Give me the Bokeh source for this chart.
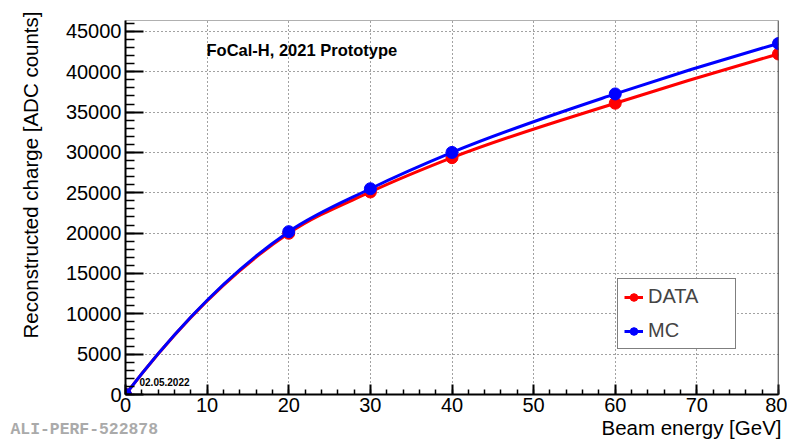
from bokeh.plotting import figure
from bokeh.models import (Range1d, FixedTicker, Label, Legend, LegendItem, Span,
                          ColumnDataSource, Title)
from bokeh.embed import file_html
from bokeh.resources import INLINE

# ---- data ----
energy = [0, 20, 30, 40, 60, 80]
charge_data = [0, 19980, 25100, 29350, 36100, 42200]
charge_mc = [0, 20180, 25500, 30000, 37250, 43500]
x_ticks = [0, 10, 20, 30, 40, 50, 60, 70, 80]
y_ticks = [0, 5000, 10000, 15000, 20000, 25000, 30000, 35000, 40000, 45000]
x_minor = list(range(0, 81, 2))
y_minor = list(range(0, 46001, 1000))

FONT = "Liberation Sans"


def smooth_segments(xs, ys):
    """Cubic Hermite (three-point tangents) segments as bezier control points."""
    n = len(xs)
    h = [xs[i + 1] - xs[i] for i in range(n - 1)]
    s = [(ys[i + 1] - ys[i]) / h[i] for i in range(n - 1)]
    m = [0.0] * n
    m[0] = s[0] + (s[0] - s[1]) * h[0] / (h[0] + h[1])
    m[-1] = s[-1] + (s[-1] - s[-2]) * h[-1] / (h[-2] + h[-1])
    for i in range(1, n - 1):
        m[i] = (s[i - 1] * h[i] + s[i] * h[i - 1]) / (h[i - 1] + h[i])
    d = dict(x0=[], y0=[], x1=[], y1=[], cx0=[], cy0=[], cx1=[], cy1=[])
    for i in range(n - 1):
        d["x0"].append(xs[i]); d["y0"].append(ys[i])
        d["x1"].append(xs[i + 1]); d["y1"].append(ys[i + 1])
        d["cx0"].append(xs[i] + h[i] / 3); d["cy0"].append(ys[i] + m[i] * h[i] / 3)
        d["cx1"].append(xs[i + 1] - h[i] / 3); d["cy1"].append(ys[i + 1] - m[i + 1] * h[i] / 3)
    return ColumnDataSource(d)


p = figure(width=787, height=439, output_backend="svg", toolbar_location=None,
           x_range=Range1d(0, 80), y_range=Range1d(0, 46350),
           min_border_left=125, min_border_right=9, min_border_top=20,
           min_border_bottom=45)
p.background_fill_color = "white"
p.border_fill_color = "white"
p.outline_line_color = "#b0b0b0"
p.outline_line_width = 1

for ax, ticks, minor in ((p.xaxis[0], x_ticks, x_minor), (p.yaxis[0], y_ticks, y_minor)):
    ax.ticker = FixedTicker(ticks=ticks, minor_ticks=minor)
    ax.major_tick_out = 0
    ax.minor_tick_out = 0
    ax.axis_line_width = 2
    ax.major_tick_line_width = 2
    ax.minor_tick_line_width = 1.5
    ax.major_label_text_font = FONT
    ax.major_label_text_font_size = "20px"
    ax.major_label_text_color = "black"
    ax.axis_line_color = "black"

p.xaxis.major_tick_in = 10
p.xaxis.minor_tick_in = 5
p.yaxis.major_tick_in = 18
p.yaxis.minor_tick_in = 9
p.xaxis.major_label_standoff = 3
p.yaxis.major_label_standoff = 4

for g in (p.xgrid[0], p.ygrid[0]):
    g.grid_line_color = "#444444"
    g.grid_line_dash = "1 3"
    g.grid_line_width = 1
p.xgrid.ticker = FixedTicker(ticks=x_ticks)
p.ygrid.ticker = FixedTicker(ticks=y_ticks)

p.add_layout(Span(location=80, dimension="height", line_color="#333333", line_width=1.5))

red_src = smooth_segments(energy, charge_data)
blue_src = smooth_segments(energy, charge_mc)

r_line = p.bezier(x0="x0", y0="y0", x1="x1", y1="y1", cx0="cx0", cy0="cy0",
                  cx1="cx1", cy1="cy1", source=red_src, line_color="red", line_width=3)
r_pts = p.scatter(energy, charge_data, size=12, color="red")
b_line = p.bezier(x0="x0", y0="y0", x1="x1", y1="y1", cx0="cx0", cy0="cy0",
                  cx1="cx1", cy1="cy1", source=blue_src, line_color="blue", line_width=3)
b_pts = p.scatter(energy, charge_mc, size=12, color="blue")

legend = Legend(items=[LegendItem(label="DATA", renderers=[r_line, r_pts]),
                       LegendItem(label="MC", renderers=[b_line, b_pts])],
                location=(492, 45), orientation="vertical",
                label_text_font=FONT, label_text_font_size="20px",
                label_height=20, glyph_height=20, glyph_width=19, label_width=81,
                label_standoff=5, spacing=11, padding=6, margin=0,
                border_line_color="black", border_line_width=1.5,
                background_fill_color="white", background_fill_alpha=1.0)
p.add_layout(legend, "center")

# axis titles and corner label as side-panel titles (not clipped by the frame)
p.add_layout(Title(text="Reconstructed charge [ADC counts]", align="right",
                   vertical_align="top", offset=-9, standoff=37,
                   text_font=FONT, text_font_size="20.5px", text_font_style="normal",
                   text_color="black"), "left")
p.add_layout(Title(text="Beam energy [GeV]", align="right", vertical_align="bottom",
                   offset=-3, standoff=-2, text_font=FONT, text_font_size="20.5px",
                   text_font_style="normal", text_color="black"), "below")
p.add_layout(Title(text="ALI-PERF-522878", align="left", vertical_align="top",
                   offset=-115, standoff=-35, text_font="Liberation Mono",
                   text_font_size="16.4px", text_font_style="bold",
                   text_color="#aaaaaa"), "below")

p.add_layout(Label(x=81, y=345, x_units="screen", y_units="screen",
                   text="FoCal-H, 2021 Prototype", text_align="left",
                   text_baseline="alphabetic", text_font=FONT, text_font_style="bold",
                   text_font_size="16.5px", text_color="black"))
p.add_layout(Label(x=14, y=13, x_units="screen", y_units="screen",
                   text="02.05.2022", text_align="left",
                   text_baseline="alphabetic", text_font=FONT, text_font_style="bold",
                   text_font_size="10px", text_color="black"))

open("out.html", "w").write(file_html(p, INLINE))
